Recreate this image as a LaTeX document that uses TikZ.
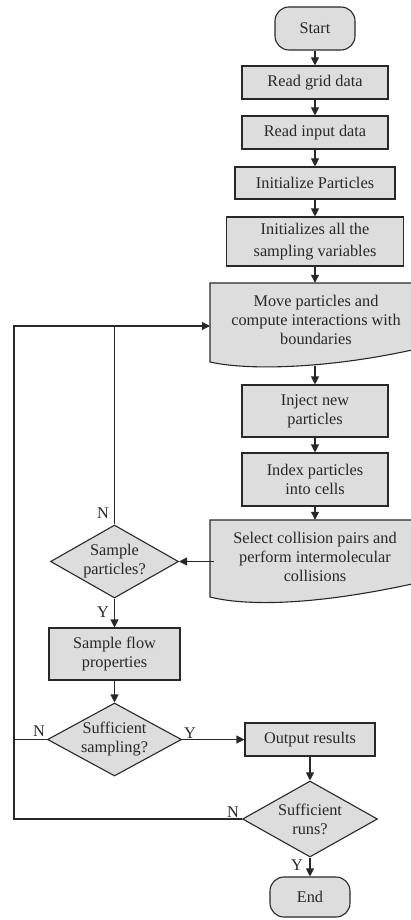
\documentclass[tikz,border=0pt]{standalone}
\usepackage{fontspec}
\setmainfont{Liberation Serif}
\usetikzlibrary{shapes.geometric,arrows.meta}
\definecolor{boxfill}{RGB}{221,221,221}
\definecolor{ink}{RGB}{40,40,40}
\begin{document}
\begin{tikzpicture}[x=1pt,y=-1pt,
  font=\fontsize{16.3}{19}\selectfont,
  every node/.style={text=ink},
  box/.style={draw=ink, fill=boxfill, line width=1.1pt, align=center, inner sep=0pt},
  term/.style={box, rounded corners=14pt},
  dia/.style={draw=ink, fill=boxfill, line width=1.1pt, diamond, inner sep=0pt},
  arr/.style={draw=ink, line width=1.1pt, -{Triangle[length=8pt,width=8pt]}},
  ln/.style={draw=ink, line width=1.1pt},
  docshape/.style={draw=ink, fill=boxfill, line width=1.1pt},
  lab/.style={inner sep=0pt, align=center}]
\useasboundingbox (0,0) rectangle (410,920);

% right column
\node[term, minimum width=80pt, minimum height=43pt] (start) at (315,28.5) {Start};
\node[box, minimum width=146pt, minimum height=33pt] (grid) at (315,82.5) {Read grid data};
\node[box, minimum width=146pt, minimum height=33pt] (input) at (315,132.5) {Read input data};
\node[box, minimum width=160pt, minimum height=32pt] (initp) at (315,183) {Initialize Particles};
\node[box, minimum width=177pt, minimum height=49pt, font=\fontsize{16.3}{21.5}\selectfont] (initv) at (315,241.5) {Initializes all the\\sampling variables};

\path[docshape] (210,283) -- (412,283) -- (412,350) .. controls (330,368) and (250,371) .. (210,362) -- cycle;
\node[lab, minimum width=202pt, minimum height=74pt] (move) at (316,320) {Move particles and\\compute interactions with\\boundaries};
\coordinate (movein) at (210,326);
\coordinate (moveout) at (315,366);

\node[box, minimum width=146pt, minimum height=52pt] (inject) at (315,411) {Inject new\\particles};
\node[box, minimum width=146pt, minimum height=53pt] (index) at (315,479.5) {Index particles\\into cells};

\path[docshape] (210,520) -- (412,520) -- (412,584) .. controls (320,604) and (250,607) .. (210,597) -- cycle;
\node[lab, minimum width=202pt, minimum height=74pt] (select) at (315,557) {Select collision pairs and\\perform intermolecular\\collisions};

% left column
\node[dia, minimum width=128pt, minimum height=73pt, label={[lab]center:{Sample\\particles?}}] (sp) at (114.5,561.5) {};
\node[box, minimum width=131pt, minimum height=52pt] (sfp) at (114.5,654) {Sample flow\\properties};
\node[dia, minimum width=134pt, minimum height=73pt, label={[lab]center:{Sufficient\\sampling?}}] (ss) at (114.5,739.5) {};

% lower right
\node[box, minimum width=130pt, minimum height=33pt] (out) at (310,739.5) {Output results};
\node[dia, minimum width=135pt, minimum height=76pt, label={[lab]center:{Sufficient\\runs?}}] (sr) at (310,819) {};
\node[term, minimum width=80pt, minimum height=40pt] (end) at (310,897) {End};

\coordinate (lx) at (14,326);

% connectors
\draw[arr] (start) -- (grid);
\draw[arr] (grid) -- (input);
\draw[arr] (input) -- (initp);
\draw[arr] (initp) -- (initv);
\draw[arr] (initv.south) -- (initv.south |- move.north);
\draw[arr] (moveout) -- (inject.north);
\draw[arr] (inject) -- (index);
\draw[arr] (index.south) -- (index.south |- select.north);
\draw[arr] (sp.east -| select.west) -- (sp.east);
\draw[ln] (sr.west) -| (lx) -- (sp.north |- lx);
\draw[ln] (ss.west) -- (ss.west -| lx);
\draw[arr] (sp.north) |- (movein);
\draw[arr] (sp) -- (sfp);
\draw[arr] (sfp) -- (ss);
\draw[arr] (ss) -- (out);
\draw[arr] (out) -- (sr);
\draw[arr] (sr) -- (end);

% branch labels
\node[lab] (nsp) at (103,513) {N};
\node[lab] (ysp) at (103,612) {Y};
\node[lab] (nss) at (39,731) {N};
\node[lab] (yss) at (190,733) {Y};
\node[lab] (nsr) at (233,812) {N};
\node[lab] (ysr) at (297,865) {Y};
\end{tikzpicture}
\end{document}
